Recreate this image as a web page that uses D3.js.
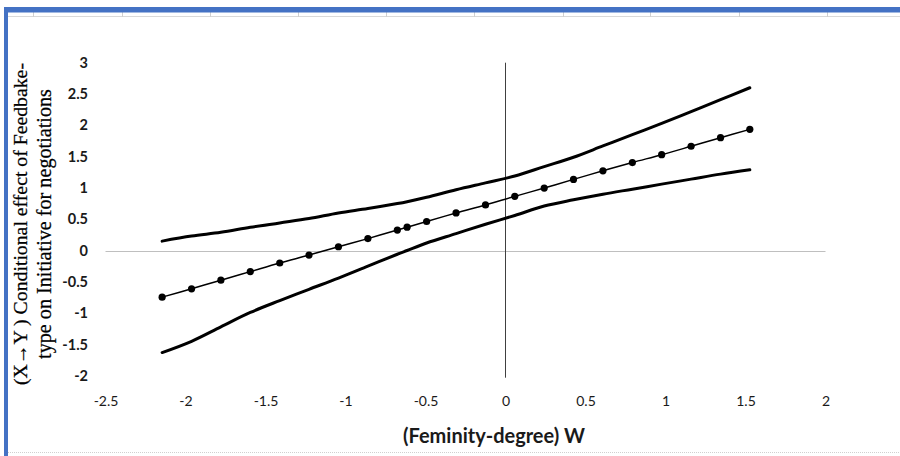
<!DOCTYPE html>
<html>
<head>
<meta charset="utf-8">
<script src="https://cdn.jsdelivr.net/npm/d3@7"></script>
<style>
  html, body { margin: 0; padding: 0; background: #fff; }
  svg { display: block; }
</style>
</head>
<body>
<svg id="chart" width="900" height="456"></svg>
<script>
// ---- data ----
const wValues = [-2.146, -1.962, -1.779, -1.595, -1.411, -1.228, -1.044, -0.860, -0.676, -0.615,
                 -0.493, -0.309, -0.125, 0.058, 0.242, 0.425, 0.609, 0.793, 0.976, 1.160, 1.344, 1.527];
const effect = [-0.745, -0.612, -0.474, -0.337, -0.200, -0.073, 0.060, 0.190, 0.327, 0.372,
                0.463, 0.600, 0.728, 0.865, 0.997, 1.136, 1.273, 1.405, 1.530, 1.665, 1.802, 1.935];
const upperCI = [0.15, 0.23, 0.29, 0.37, 0.44, 0.51, 0.60, 0.67, 0.75, 0.78,
                 0.85, 0.97, 1.08, 1.19, 1.34, 1.49, 1.67, 1.85, 2.03, 2.22, 2.41, 2.60];
const lowerCI = [-1.63, -1.45, -1.22, -0.99, -0.80, -0.62, -0.44, -0.25, -0.06, 0.00,
                 0.12, 0.27, 0.42, 0.56, 0.71, 0.81, 0.90, 0.98, 1.06, 1.14, 1.22, 1.29];
const xTicks = [-2.5, -2, -1.5, -1, -0.5, 0, 0.5, 1, 1.5, 2];
const yTicks = [-2, -1.5, -1, -0.5, 0, 0.5, 1, 1.5, 2, 2.5, 3];
const xTitle = "(Feminity-degree) W";
const yTitleLines = ["(X\u2192Y ) Conditional effect of Feedbake-", "type on Initiative for negotiations"];
const sheetColumns = [33, 122, 210, 298, 386, 474, 563, 650, 739, 827];

const svg = d3.select("#chart");
const sansFont = "Lato, 'Open Sans', 'Liberation Sans', sans-serif";
const fmt = d => String(d);

// ---- spreadsheet frame ----
svg.append("rect").attr("x", 0).attr("y", 0).attr("width", 900).attr("height", 456).attr("fill", "#fff");
svg.append("line").attr("x1", 8).attr("x2", 900).attr("y1", 16.5).attr("y2", 16.5)
  .attr("stroke", "#d9d9d9").attr("stroke-width", 1);
svg.selectAll("line.col").data(sheetColumns).enter().append("line")
  .attr("class", "col")
  .attr("x1", d => d + 0.5).attr("x2", d => d + 0.5)
  .attr("y1", 12).attr("y2", 17)
  .attr("stroke", "#d0d0d0").attr("stroke-width", 1);
svg.append("line").attr("x1", 8).attr("x2", 900).attr("y1", 452.5).attr("y2", 452.5)
  .attr("stroke", "#d0d0d0").attr("stroke-width", 1).attr("stroke-dasharray", "1,1");
svg.append("rect").attr("x", 4).attr("y", 7).attr("width", 896).attr("height", 5.5).attr("fill", "#4472C4");
svg.append("rect").attr("x", 4).attr("y", 7).attr("width", 4).attr("height", 449).attr("fill", "#4472C4");

// ---- scales ----
const x = d3.scaleLinear().domain([-2.5, 2]).range([105.5, 825.5]);
const y = d3.scaleLinear().domain([-2, 3]).range([375.7, 62.7]);

// zero reference lines
svg.append("line")
  .attr("x1", x(-2.5)).attr("x2", x(2))
  .attr("y1", Math.round(y(0)) + 0.5).attr("y2", Math.round(y(0)) + 0.5)
  .attr("stroke", "#bfbfbf").attr("stroke-width", 1);
svg.append("line")
  .attr("x1", Math.round(x(0)) - 0.5).attr("x2", Math.round(x(0)) - 0.5)
  .attr("y1", y(3)).attr("y2", y(-2) + 2)
  .attr("stroke", "#404040").attr("stroke-width", 1);

// ---- axes ----
const xAxis = svg.append("g")
  .attr("transform", "translate(0,396)")
  .call(d3.axisBottom(x).tickValues(xTicks).tickSize(0).tickPadding(0).tickFormat(fmt));
xAxis.select(".domain").remove();
xAxis.selectAll("text")
  .attr("font-family", sansFont)
  .attr("font-size", 14).attr("fill", "#1a1a1a");

const yAxis = svg.append("g")
  .attr("transform", "translate(88,0)")
  .call(d3.axisLeft(y).tickValues(yTicks).tickSize(0).tickPadding(0).tickFormat(fmt));
yAxis.select(".domain").remove();
yAxis.selectAll("text")
  .attr("font-family", sansFont)
  .attr("font-weight", "bold")
  .attr("font-size", 14.5).attr("fill", "#1a1a1a");

// ---- titles ----
const xt = svg.append("text")
  .attr("x", 494).attr("y", 443)
  .attr("text-anchor", "middle")
  .attr("font-family", sansFont)
  .attr("font-weight", "bold")
  .attr("font-size", 17).attr("fill", "#1a1a1a")
  .text(xTitle);
const xtLen = xt.node().getComputedTextLength();
xt.attr("font-size", 17 * 182 / xtLen);

const yTitleX = [27, 51];
const yTitleLen = [322, 270];
yTitleLines.forEach((line, i) => {
  const t = svg.append("text")
    .attr("transform", `translate(${yTitleX[i]},224) rotate(-90)`)
    .attr("text-anchor", "middle")
    .attr("font-family", "'Liberation Serif', 'DejaVu Serif', serif")
    .attr("font-size", 17).attr("fill", "#000")
    .attr("stroke", "#000").attr("stroke-width", 0.25)
    .text(line);
  const len = t.node().getComputedTextLength();
  t.attr("font-size", 17 * yTitleLen[i] / len);
});

// ---- series ----
const rows = wValues.map((w, i) => ({ w, e: effect[i], u: upperCI[i], l: lowerCI[i] }));
const mk = key => d3.line().x(d => x(d.w)).y(d => y(d[key])).curve(d3.curveCatmullRom.alpha(0.5));

svg.append("path").datum(rows).attr("d", mk("u"))
  .attr("fill", "none").attr("stroke", "#000").attr("stroke-width", 3).attr("stroke-linecap", "round");
svg.append("path").datum(rows).attr("d", mk("l"))
  .attr("fill", "none").attr("stroke", "#000").attr("stroke-width", 3).attr("stroke-linecap", "round");
svg.append("path").datum(rows).attr("d", mk("e"))
  .attr("fill", "none").attr("stroke", "#000").attr("stroke-width", 1.5);
svg.selectAll("circle.pt").data(rows).enter().append("circle")
  .attr("class", "pt")
  .attr("cx", d => x(d.w)).attr("cy", d => y(d.e)).attr("r", 3.6)
  .attr("fill", "#000");
</script>
</body>
</html>
